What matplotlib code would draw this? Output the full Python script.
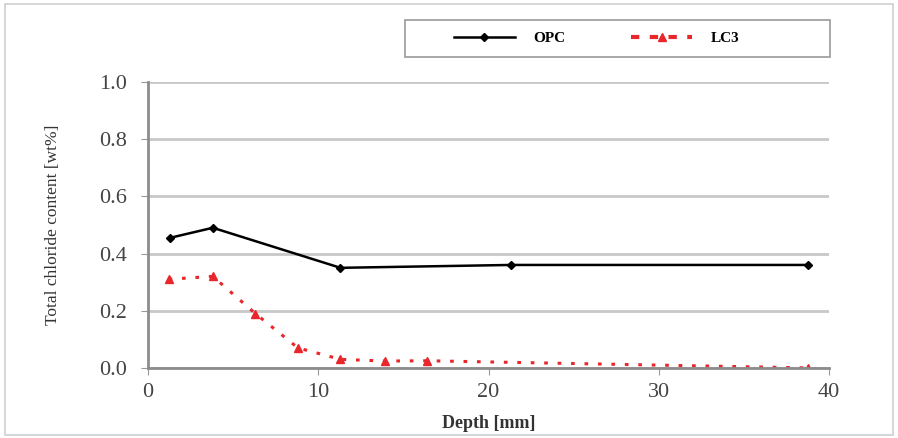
import matplotlib.pyplot as plt
from matplotlib.patches import Rectangle

# depth [mm] and total chloride content [wt%]
opc_depth = [1.3, 3.8, 11.3, 21.3, 38.8]
opc_cl = [0.455, 0.49, 0.35, 0.36, 0.36]

lc3_depth = [1.2, 3.8, 6.3, 8.8, 11.3, 13.9, 16.4, 38.8]
lc3_cl = [0.31, 0.32, 0.19, 0.07, 0.03, 0.024, 0.025, 0.0]

series_names = ['OPC', 'LC3']
y_ticks = [0.0, 0.2, 0.4, 0.6, 0.8, 1.0]
x_ticks = [0, 10, 20, 30, 40]

plt.rcParams['font.family'] = ['Liberation Serif', 'DejaVu Serif']

fig = plt.figure(figsize=(8.98, 4.38), dpi=100)
ax = fig.add_axes([0.165, 0.16, 0.758, 0.653])

ax.plot(opc_depth, opc_cl, color='black', lw=1.8, marker='D', ms=4,
        label=series_names[0])
ax.plot(lc3_depth, lc3_cl, color='#e8262b', lw=2.2, ls=(0, (1.2, 3.2)),
        marker='^', ms=6, label=series_names[1])

ax.set_xlim(0, 40)
ax.set_ylim(0, 1.0)
ax.set_xticks(x_ticks)
ax.set_yticks(y_ticks)
ax.set_yticklabels(['%.1f' % v for v in y_ticks])
ax.tick_params(labelsize=16, colors='#444444', length=5, color='#999999')
ax.tick_params(axis='y', pad=10)
ax.tick_params(axis='x', pad=6)
ax.grid(axis='y', color='#c8c8c8', lw=2)
ax.set_axisbelow(True)
for s in ['top', 'right']:
    ax.spines[s].set_visible(False)
for s in ['left', 'bottom']:
    ax.spines[s].set_color('#8c8c8c')
    ax.spines[s].set_linewidth(2)

ax.set_xlabel('Depth [mm]', fontsize=13, fontweight='bold', color='#333333', labelpad=9)
ax.set_ylabel('Total chloride content [wt%]', fontsize=12.5, color='#333333',
              labelpad=28)

# legend box above the plot
fig.patches.append(Rectangle((0.451, 0.87), 0.473, 0.084, transform=fig.transFigure,
                             fill=False, edgecolor='#9a9a9a', lw=1.2))
leg = fig.legend(loc='center left', bbox_to_anchor=(0.49, 0.912), ncol=2, frameon=False,
                 handlelength=4, handletextpad=1.2, columnspacing=4.3,
                 prop={'weight': 'bold', 'size': 11})
# legend shows LC3 with coarser dashes
leg.legend_handles[1].set_linestyle((0, (2, 2.5)))
leg.legend_handles[1].set_linewidth(3)

# outer border
fig.patches.append(Rectangle((0.006, 0.006), 0.988, 0.985, transform=fig.transFigure,
                             fill=False, edgecolor='#cfcfcf', lw=1.2))

fig.savefig('out.png', dpi=100)
